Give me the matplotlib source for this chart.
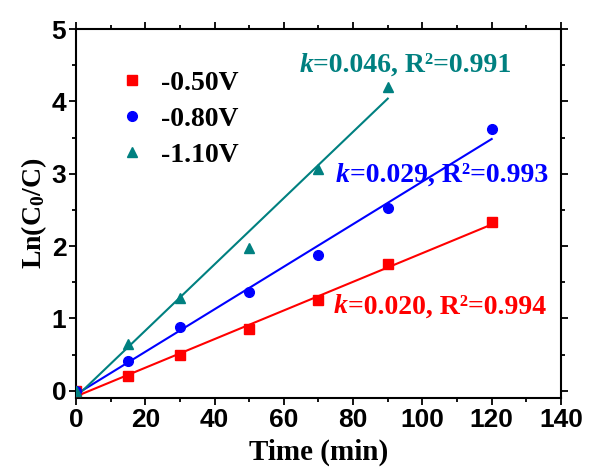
import numpy as np
import matplotlib
matplotlib.use('Agg')
import matplotlib.pyplot as plt
from matplotlib.ticker import MultipleLocator

plt.rcParams['font.family'] = 'Liberation Sans'
plt.rcParams['font.weight'] = 'bold'
plt.rcParams['mathtext.fontset'] = 'custom'
plt.rcParams['mathtext.rm'] = 'Liberation Serif:bold'
plt.rcParams['mathtext.bf'] = 'Liberation Serif:bold'
plt.rcParams['mathtext.it'] = 'Liberation Serif:italic:bold'

# data
t_050 = [0, 15, 30, 50, 70, 90, 120]
y_050 = [0, 0.20, 0.50, 0.85, 1.25, 1.75, 2.33]
t_080 = [0, 15, 30, 50, 70, 90, 120]
y_080 = [0, 0.41, 0.88, 1.37, 1.88, 2.52, 3.62]
t_110 = [0, 15, 30, 50, 70, 90]
y_110 = [0, 0.64, 1.28, 1.98, 3.07, 4.20]

labels = ['-0.50V', '-0.80V', '-1.10V']
k_vals = ['0.020', '0.029', '0.046']
r2_vals = ['0.994', '0.993', '0.991']
text_pos = [(74.5, 1.16), (75, 2.98), (64.5, 4.5)]

colors = ['#FF0000', '#0000FF', '#008080']
markers = ['s', 'o', '^']

fig = plt.figure(figsize=(6.06, 4.68), dpi=100)
ax = fig.add_axes([0.1254, 0.1496, 0.8003, 0.7884])

serif = 'Liberation Serif'
series = [(t_050, y_050), (t_080, y_080), (t_110, y_110)]
for (t, y), c, m, lab, kv, rv, pos in zip(series, colors, markers, labels, k_vals, r2_vals, text_pos):
    t = np.array(t)
    y = np.array(y)
    ax.plot(t, y, linestyle='none', marker=m, color=c, markersize=7, label=lab, zorder=3)
    k, b = np.polyfit(t, y, 1)
    xx = np.array([0, t.max()])
    ax.plot(xx, k * xx + b, color=c, lw=1.5, zorder=2)
    kt = ax.text(pos[0], pos[1], 'k', color=c, fontsize=20, va='center', ha='left',
                 family=serif, weight='bold', style='italic')
    ax.annotate('=' + kv + ', R\u00b2=' + rv, xy=(1, 0.5), xycoords=kt,
                va='center', ha='left', color=c, fontsize=20, family=serif, weight='bold')

ax.set_xlim(0, 140)
ax.set_ylim(-0.1, 5)
ax.xaxis.set_major_locator(MultipleLocator(20))
ax.xaxis.set_minor_locator(MultipleLocator(10))
ax.yaxis.set_major_locator(MultipleLocator(1))
ax.yaxis.set_minor_locator(MultipleLocator(0.5))
ax.tick_params(which='both', direction='out', top=True, right=True, width=1.3)
ax.tick_params(which='major', length=5, labelsize=19, pad=2)
ax.tick_params(which='minor', length=3)
for s in ax.spines.values():
    s.set_linewidth(1.5)

ax.set_xlabel('Time (min)', family=serif, weight='bold', fontsize=21, labelpad=5)
ax.set_ylabel(r'$\mathrm{Ln(C_0/C)}$', fontsize=20, labelpad=2)

leg = ax.legend(loc='upper left', bbox_to_anchor=(0.02, 0.955), frameon=False,
                prop={'family': serif, 'weight': 'bold', 'size': 20},
                handletextpad=0.3, labelspacing=0.38, handlelength=1.5)

fig.savefig('out.png', dpi=100)
